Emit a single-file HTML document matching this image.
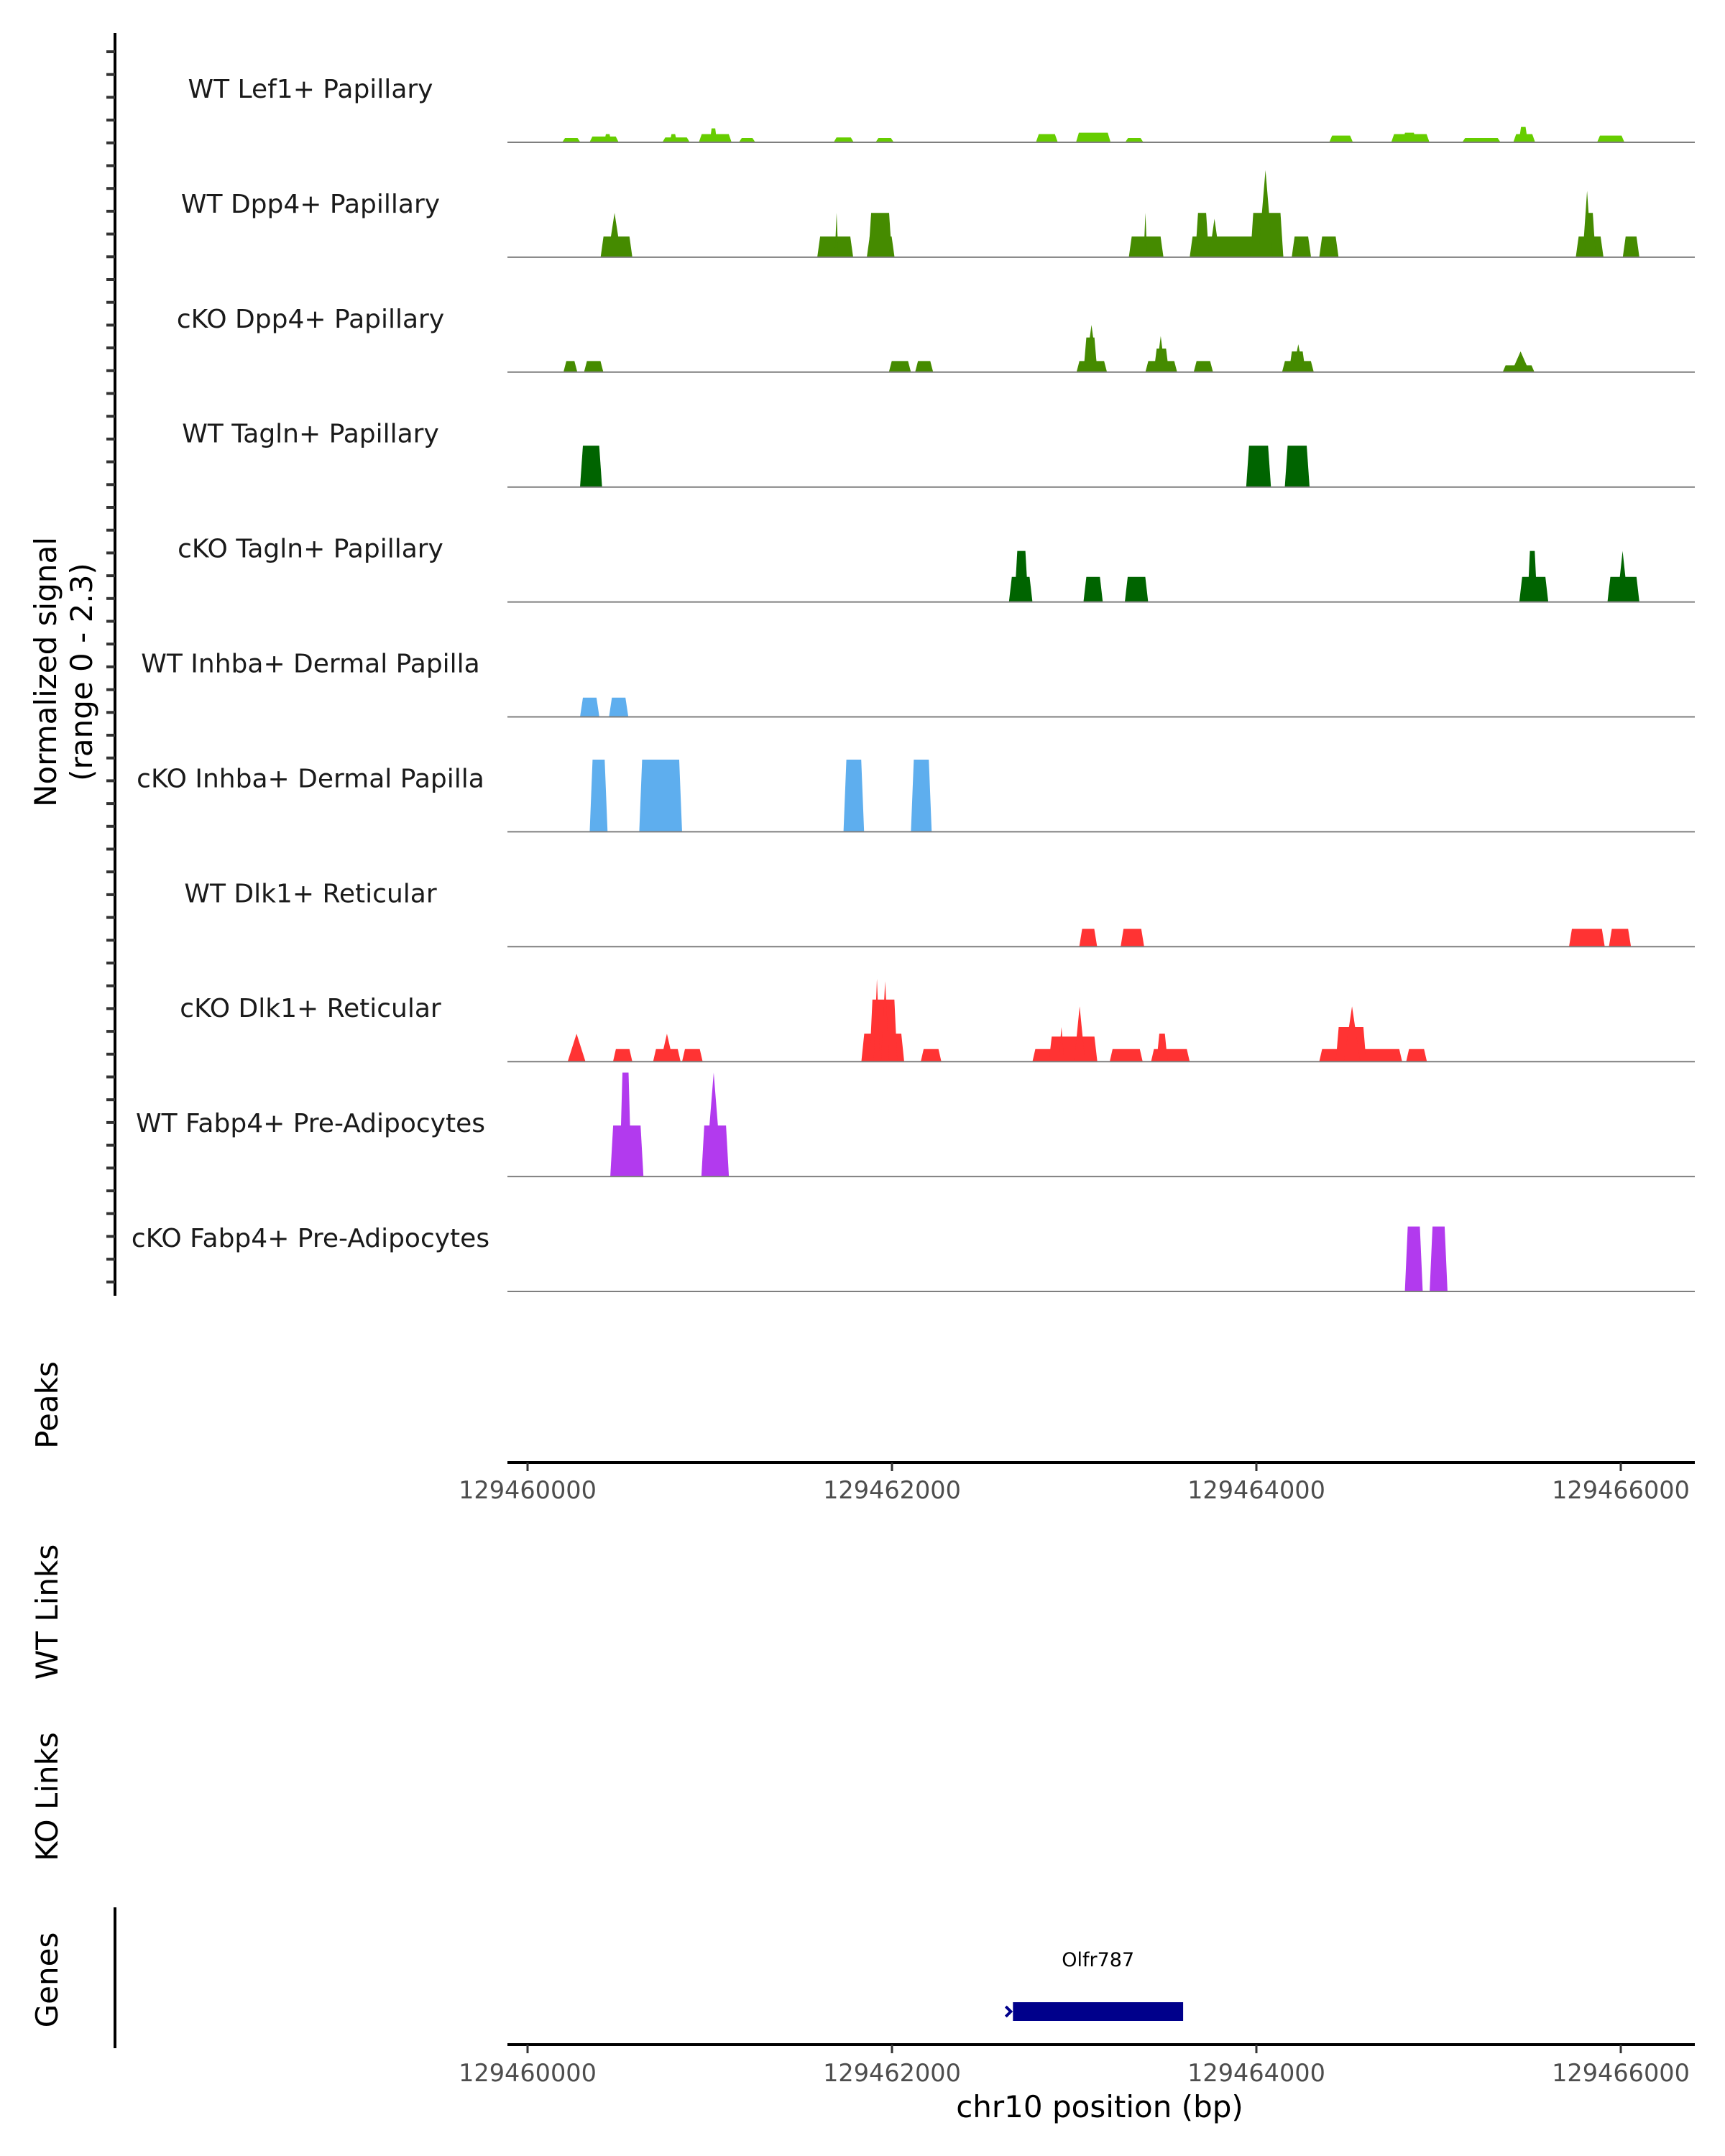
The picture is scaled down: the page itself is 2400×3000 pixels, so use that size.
<!DOCTYPE html>
<html><head><meta charset="utf-8"><style>
html,body{margin:0;padding:0;background:#fff;}
svg{display:block;font-family:"DejaVu Sans","Liberation Sans",sans-serif;}
</style></head><body>
<svg id="chart" width="2400" height="3000" viewBox="0 0 2400 3000" xmlns="http://www.w3.org/2000/svg">
<g id="tracks"></g>
<g id="yaxis">
<line x1="160" y1="46" x2="160" y2="1803" stroke="#000" stroke-width="4"/>
</g>
<text transform="translate(78,935) rotate(-90)" text-anchor="middle" font-size="42" fill="#000">Normalized signal</text>
<text transform="translate(128,935) rotate(-90)" text-anchor="middle" font-size="42" fill="#000">(range 0 - 2.3)</text>
<text transform="translate(80,1955) rotate(-90)" text-anchor="middle" font-size="42">Peaks</text>
<text transform="translate(80,2243) rotate(-90)" text-anchor="middle" font-size="42">WT Links</text>
<text transform="translate(80,2500) rotate(-90)" text-anchor="middle" font-size="42">KO Links</text>
<text transform="translate(80,2755) rotate(-90)" text-anchor="middle" font-size="42">Genes</text>
<line x1="160" y1="2654" x2="160" y2="2850" stroke="#000" stroke-width="4"/>
<g id="xaxes"></g>
<g id="gene"></g>
<text x="1530" y="2946" text-anchor="middle" font-size="42" fill="#000">chr10 position (bp)</text>
</svg>
<script>
// bp offsets from 129460000; [start, end, value, triangle?]
const trackNames = ["WT Lef1+ Papillary","WT Dpp4+ Papillary","cKO Dpp4+ Papillary","WT Tagln+ Papillary","cKO Tagln+ Papillary","WT Inhba+ Dermal Papilla","cKO Inhba+ Dermal Papilla","WT Dlk1+ Reticular","cKO Dlk1+ Reticular","WT Fabp4+ Pre-Adipocytes","cKO Fabp4+ Pre-Adipocytes"];
const trackColors = ["#66cd00","#458b00","#458b00","#006400","#006400","#5eaeee","#5eaeee","#ff3333","#ff3333","#b23aee","#b23aee"];
const lef1WT = [[190,290,0.09],[340,500,0.12],[420,460,0.17],[740,890,0.1],[780,820,0.17],[940,1120,0.17],[1000,1040,0.29],[1160,1250,0.09],[1680,1790,0.1],[1910,2010,0.09],[2790,2910,0.17],[3010,3200,0.2],[3280,3380,0.09],[4400,4530,0.14],[4740,4950,0.17],[4800,4880,0.2],[5130,5340,0.09],[5410,5530,0.17],[5440,5490,0.32],[5870,6020,0.14]];
const dpp4WT = [[401,575,0.43],[440,515,0.92,1],[1590,1787,0.43],[1686,1706,0.92,1],[1862,2014,0.43],[1870,2000,0.92],[3300,3490,0.43],[3381,3401,0.92,1],[3634,4148,0.43],[3664,3740,0.92],[3740,3800,0.8,1],[3967,4148,0.92],[4010,4090,1.81,1],[4194,4300,0.43],[4345,4451,0.43],[5753,5905,0.43],[5790,5840,1.38,1],[5800,5862,0.92],[6011,6102,0.43]];
const dpp4KO = [[197,273,0.23],[310,416,0.23],[1983,2104,0.23],[2127,2226,0.23],[3013,3180,0.23],[3051,3127,0.72],[3060,3130,0.98,1],[3391,3565,0.23],[3437,3520,0.49],[3450,3500,0.75,1],[3656,3762,0.23],[4141,4315,0.23],[4179,4270,0.43],[4200,4260,0.58,1],[5352,5526,0.14],[5400,5500,0.43,1]];
const taglnWT = [[288,409,0.86],[3944,4080,0.86],[4156,4292,0.86]];
const taglnKO = [[2642,2771,0.52],[2672,2748,1.06],[3051,3157,0.52],[3278,3406,0.52],[5443,5602,0.52],[5488,5541,1.06],[5927,6102,0.52],[5980,6040,1.06,1]];
const inhbaWT = [[288,394,0.4],[447,553,0.4]];
const inhbaKO = [[341,439,1.5],[613,848,1.5],[1734,1847,1.5],[2104,2218,1.5]];
const dlk1WT = [[3028,3126,0.37],[3255,3384,0.37],[5716,5912,0.37],[5935,6056,0.37]];
const dlk1KO = [[220,318,0.58,1],[469,575,0.26],[689,840,0.26],[730,800,0.58,1],[848,961,0.26],[1832,2067,0.58],[1877,2029,1.29],[1900,1935,1.72,1],[1940,1985,1.67,1],[2158,2271,0.26],[2771,3127,0.26],[2861,3127,0.52],[2915,2945,0.72,1],[3000,3060,1.15,1],[3195,3376,0.26],[3422,3634,0.26],[3452,3513,0.58],[4345,4800,0.26],[4436,4603,0.72],[4480,4570,1.15,1],[4822,4936,0.26]];
const fabp4WT = [[454,636,1.06],[505,570,2.16],[954,1105,1.06],[976,1067,2.16,1]];
const fabp4KO = [[4815,4913,1.35],[4951,5049,1.35]];
const trackData = [lef1WT,dpp4WT,dpp4KO,taglnWT,taglnKO,inhbaWT,inhbaKO,dlk1WT,dlk1KO,fabp4WT,fabp4KO];
const xTicks = [0,2000,4000,6000];
const xTickLabels = ["129460000","129462000","129464000","129466000"];
const geneStart = 2664, geneEnd = 3598, geneName = "Olfr787";

const NS="http://www.w3.org/2000/svg";
function xs(bp){return 734 + bp*0.2535;}
function baseY(i){return 198 + i*159.9;}
function ys(v){return v/2.3*154;}
function mk(tag,attrs,parent){const e=document.createElementNS(NS,tag);for(const k in attrs)e.setAttribute(k,attrs[k]);parent.appendChild(e);return e;}

const tg=document.getElementById('tracks');
trackData.forEach((segs,i)=>{
  const g=mk('g',{},tg);
  
  
  const b=baseY(i);
  const lab=mk('text',{x:432,y:b-62,'text-anchor':'middle','font-size':'36',fill:'#1a1a1a'},g);
  
  
  lab.textContent=trackNames[i];
  segs.forEach(s=>{
    const x0=xs(s[0]),x1=xs(s[1]),h=ys(s[2]);
    let pts;
    if(s[3]){const xm=(x0+x1)/2;pts=`${x0},${b} ${xm},${b-h} ${x1},${b}`;}
    else{const sl=Math.min(4,(x1-x0)/4);pts=`${x0},${b} ${x0+sl},${b-h} ${x1-sl},${b-h} ${x1},${b}`;}
    const p=mk('polygon',{points:pts,fill:trackColors[i]},g);
    
    
  });
  const ln=mk('line',{x1:706,y1:b,x2:2358,y2:b,stroke:'#7f7f7f','stroke-width':'2'},g);
  
  
});
const ya=document.getElementById('yaxis');
for(let y=72;y<1803;y+=31.7){
  const t=mk('line',{x1:148,y1:y,x2:160,y2:y,stroke:'#333','stroke-width':'4'},ya);
  
  
}
const xa=document.getElementById('xaxes');
[[2035,2072],[2845,2883]].forEach(([ay,ly])=>{
  const l=mk('line',{x1:706,y1:ay,x2:2358,y2:ay,stroke:'#000','stroke-width':'4'},xa);
  
  
  xTicks.forEach((t,k)=>{
    const tk=mk('line',{x1:xs(t),y1:ay,x2:xs(t),y2:ay+12,stroke:'#333','stroke-width':'3'},xa);
    
    
    const tl=mk('text',{x:xs(t),y:ly+13,'text-anchor':'middle','font-size':'33.5',fill:'#4d4d4d'},xa);
    
    
    tl.textContent=xTickLabels[k];
  });
});
const gg=document.getElementById('gene');
const gb=mk('rect',{x:xs(geneStart),y:2786,width:xs(geneEnd)-xs(geneStart),height:26,fill:'#00008b'},gg);


const ga=mk('path',{d:`M${xs(geneStart)-10},2792 L${xs(geneStart)-3},2799 L${xs(geneStart)-10},2806`,stroke:'#00008b','stroke-width':'4',fill:'none'},gg);


const gl=mk('text',{x:(xs(geneStart)+xs(geneEnd))/2,y:2736,'text-anchor':'middle','font-size':'27',fill:'#000'},gg);


gl.textContent=geneName;
</script>
</body></html>
